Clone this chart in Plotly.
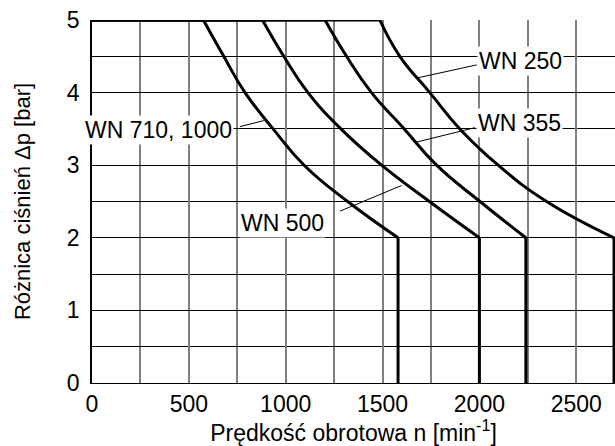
import plotly.graph_objects as go

# Data
pressure = [5, 4.5, 4, 3.5, 3, 2.5, 2]          # Δp [bar] sample levels along each curve
speed_wn710 = [575, 680, 790, 935, 1095, 1320, 1580]
speed_wn500 = [880, 990, 1115, 1285, 1495, 1742, 2000]
speed_wn355 = [1203, 1314, 1443, 1612, 1779, 2003, 2240]
speed_wn250 = [1486, 1589, 1744, 1899, 2097, 2347, 2695]
series_names = ["WN 710, 1000", "WN 500", "WN 355", "WN 250"]
series_speeds = [speed_wn710, speed_wn500, speed_wn355, speed_wn250]
p_max = 5
p_min_curve = 2
x_tick_vals = [0, 500, 1000, 1500, 2000, 2500]
y_tick_vals = [0, 1, 2, 3, 4, 5]

FONT = "Liberation Sans, Arial, Helvetica, sans-serif"
FS = 23

fig = go.Figure()
line_style = dict(color="black", width=3)
for name, sp in zip(series_names, series_speeds):
    # flat top segment at max pressure
    fig.add_trace(go.Scatter(x=[0, sp[0]], y=[p_max, p_max], mode="lines",
                             line=line_style, cliponaxis=False, showlegend=False,
                             hoverinfo="skip"))
    # curve
    fig.add_trace(go.Scatter(x=sp, y=pressure, mode="lines",
                             line=dict(color="black", width=3, shape="spline", smoothing=1.3),
                             cliponaxis=False, showlegend=False, name=name))
    # vertical drop at max speed
    fig.add_trace(go.Scatter(x=[sp[-1], sp[-1]], y=[p_min_curve, 0], mode="lines",
                             line=line_style, cliponaxis=False, showlegend=False,
                             hoverinfo="skip"))

# label placement (layout, not data)
label_pos = {
    "WN 250": dict(x=2212, y=4.43, lx=(1986, 1676), ly=(4.382, 4.20)),
    "WN 355": dict(x=2205, y=3.58, lx=(1977, 1672), ly=(3.517, 3.316)),
    "WN 500": dict(x=985, y=2.21, lx=(1281, 1598), ly=(2.368, 2.72)),
    "WN 710, 1000": dict(x=343, y=3.48, lx=(763, 887), ly=(3.531, 3.614)),
}
for txt, d in label_pos.items():
    fig.add_shape(type="line", x0=d["lx"][0], x1=d["lx"][1], y0=d["ly"][0], y1=d["ly"][1],
                  xref="x", yref="y", line=dict(color="black", width=1), layer="above")
    fig.add_annotation(x=d["x"], y=d["y"], text=txt, showarrow=False,
                       font=dict(family=FONT, size=FS, color="black"),
                       bgcolor="white", borderpad=1)

fig.update_layout(
    width=615, height=446,
    margin=dict(l=92, r=0, t=20, b=63),
    paper_bgcolor="white", plot_bgcolor="white",
    font=dict(family=FONT, size=FS, color="black"),
    showlegend=False,
)
fig.update_xaxes(
    range=[0, 2700], tickvals=x_tick_vals, ticks="", automargin=False,
    showgrid=True, gridcolor="#808080", gridwidth=1.5,
    minor=dict(dtick=250, showgrid=True, gridcolor="#808080", gridwidth=1.5),
    zeroline=False, showline=True, linecolor="black", linewidth=1,
    tickfont=dict(family=FONT, size=FS),
    title=dict(text="Prędkość obrotowa n [min<sup>-1</sup>]", font=dict(family=FONT, size=FS), standoff=2),
)
fig.update_yaxes(
    range=[0, 5], tickvals=y_tick_vals, ticks="", automargin=False,
    ticklabelstandoff=6,
    showgrid=True, gridcolor="black", gridwidth=1,
    minor=dict(dtick=0.5, showgrid=True, gridcolor="black", gridwidth=1),
    zeroline=False, showline=True, linecolor="black", linewidth=1.5,
    tickfont=dict(family=FONT, size=FS),
    title=dict(text="Różnica ciśnień Δp [bar]", font=dict(family=FONT, size=22), standoff=30),
)

fig.write_html("out.html", config={"displayModeBar": False},
               post_script="document.body.style.margin='0';document.body.style.overflow='hidden';")
